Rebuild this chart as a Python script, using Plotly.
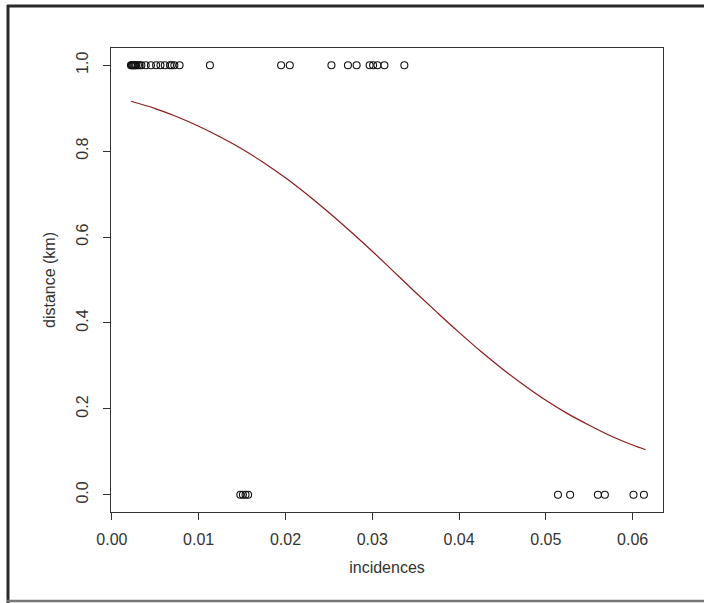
import plotly.graph_objects as go

# observed points at distance = 1
x_top = [0.0022, 0.0023, 0.0024, 0.0025, 0.0026, 0.0027, 0.0028, 0.0030, 0.0032, 0.0034,
         0.0039, 0.0045, 0.0051, 0.0056, 0.0061, 0.0067, 0.0069, 0.0072, 0.0078, 0.0113,
         0.0195, 0.0205, 0.0253, 0.0272, 0.0282, 0.0297, 0.0301, 0.0306, 0.0314, 0.0337]
y_top = [1.0] * len(x_top)

# observed points at distance = 0
x_bottom = [0.0148, 0.0151, 0.0154, 0.0157, 0.0514, 0.0528, 0.0560, 0.0568, 0.0601, 0.0613]
y_bottom = [0.0] * len(x_bottom)

# fitted curve
curve_x = [0.0022, 0.005, 0.0075, 0.010, 0.0125, 0.015, 0.0175, 0.020, 0.0225, 0.025,
           0.0275, 0.030, 0.0325, 0.035, 0.0375, 0.040, 0.0425, 0.045, 0.0475, 0.050,
           0.0525, 0.055, 0.0575, 0.060, 0.0615]
curve_y = [0.916, 0.899, 0.880, 0.858, 0.833, 0.805, 0.773, 0.738, 0.699, 0.657,
           0.613, 0.567, 0.519, 0.471, 0.424, 0.378, 0.334, 0.293, 0.255, 0.220,
           0.189, 0.162, 0.137, 0.116, 0.105]

x_ticks = [0.00, 0.01, 0.02, 0.03, 0.04, 0.05, 0.06]
x_tick_labels = ["0.00", "0.01", "0.02", "0.03", "0.04", "0.05", "0.06"]
y_ticks = [0.0, 0.2, 0.4, 0.6, 0.8, 1.0]
y_tick_labels = ["0.0", "0.2", "0.4", "0.6", "0.8", "1.0"]

FONT = "Liberation Sans, Arial, sans-serif"
TXT = "#333333"

marker = dict(symbol="circle-open", size=7, color="#111", line=dict(width=1.1, color="#111"))

fig = go.Figure()
fig.add_trace(go.Scatter(x=x_top, y=y_top, mode="markers", marker=marker, hoverinfo="skip"))
fig.add_trace(go.Scatter(x=x_bottom, y=y_bottom, mode="markers", marker=marker, hoverinfo="skip"))
fig.add_trace(go.Scatter(x=curve_x, y=curve_y, mode="lines",
                         line=dict(color="#8b1c1c", width=1.2, shape="spline"), hoverinfo="skip"))

L, R, T, B = 111, 41, 48, 91
W, H = 704, 603
pw, ph = W - L - R, H - T - B

def px_x(p):
    return (p - L) / pw

def px_y(p):
    return (H - B - p) / ph

# outer screenshot frame (left, top dark; bottom gray)
fig.add_shape(type="line", xref="paper", yref="paper",
              x0=px_x(8), x1=px_x(8), y0=px_y(603), y1=px_y(5),
              line=dict(color="#2a2a2a", width=3))
fig.add_shape(type="line", xref="paper", yref="paper",
              x0=px_x(7), x1=px_x(704), y0=px_y(6), y1=px_y(6),
              line=dict(color="#2a2a2a", width=3))
fig.add_shape(type="line", xref="paper", yref="paper",
              x0=px_x(7), x1=px_x(704), y0=px_y(601), y1=px_y(601),
              line=dict(color="#777777", width=2.5))

axis_common = dict(showgrid=False, zeroline=False, showline=True, linecolor="#333", linewidth=1.3,
                   mirror=True, ticks="outside", ticklen=7, tickwidth=1.1, tickcolor="#333",
                   tickfont=dict(family=FONT, size=16, color=TXT))

fig.update_layout(
    width=W, height=H,
    margin=dict(l=L, r=R, t=T, b=B),
    paper_bgcolor="white", plot_bgcolor="white",
    showlegend=False,
    font=dict(family=FONT, size=16, color=TXT),
    xaxis=dict(range=[-0.0001, 0.0635], tickvals=x_ticks, ticktext=x_tick_labels,
               ticklabelstandoff=6,
               title=dict(text="incidences", standoff=14, font=dict(family=FONT, size=16, color=TXT)),
               **axis_common),
    yaxis=dict(range=[-0.04, 1.04], tickvals=y_ticks, ticktext=y_tick_labels, tickangle=-90,
               ticklabelstandoff=8,
               title=dict(text="distance (km)", standoff=14, font=dict(family=FONT, size=16, color=TXT)),
               **axis_common),
)

fig.write_html("out.html", config={"displayModeBar": False},
               post_script="document.body.style.margin='0';document.body.style.overflow='hidden';")
